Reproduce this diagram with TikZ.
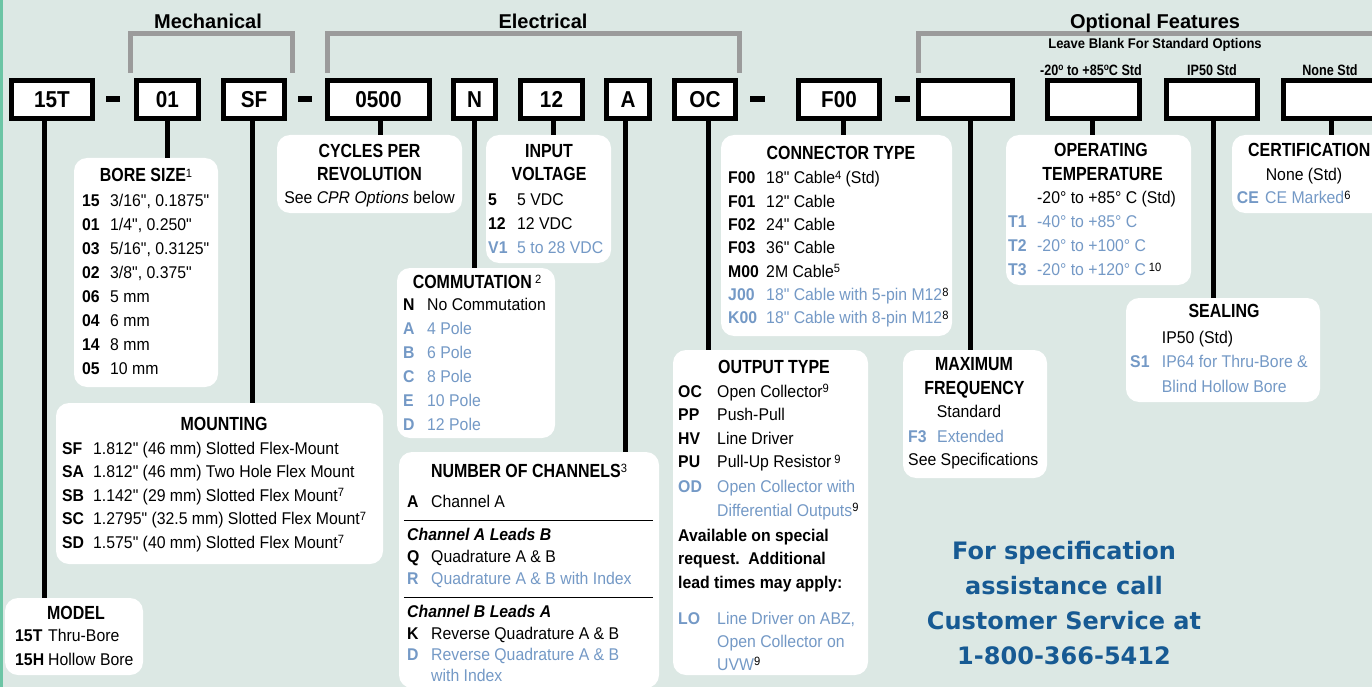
\documentclass[tikz,border=0pt]{standalone}
\usepackage{fontspec}
\newfontfamily\bodyf{Liberation Sans}[FakeStretch=0.93]
\newfontfamily\headf{Liberation Sans}[FakeStretch=0.84]
\newfontfamily\topf{Liberation Sans}
\newfontfamily\boxf{Liberation Sans}[FakeStretch=0.9]
\newfontfamily\csf{DejaVu Sans}
\definecolor{bgc}{HTML}{DCE8E4}
\definecolor{edgec}{HTML}{6CC5A5}
\definecolor{optblue}{HTML}{7499C6}
\definecolor{bracec}{HTML}{9B9B9B}
\definecolor{csblue}{HTML}{175A93}
\newcommand\fnx[1]{\raisebox{4.5pt}{\bodyf\mdseries\upshape\fontsize{12}{12}\selectfont #1}}
\newcommand\dego{\raisebox{5pt}{\fontsize{10}{10}\selectfont o}}
\tikzset{
  codebox/.style={draw=black, line width=5pt, fill=white, inner sep=0pt, minimum height=38pt, font=\boxf\bfseries\fontsize{23}{23}\selectfont},
  panel/.style={fill=white, rounded corners=13pt, inner sep=0pt, draw=none},
  wire/.style={line width=5pt, draw=black},
  brace/.style={line width=5pt, draw=bracec},
  bar/.style={fill=black},
  grp/.style={font=\topf\bfseries\fontsize{20}{20}\selectfont, inner sep=0pt, anchor=base},
  small/.style={font=\headf\bfseries\fontsize{15}{15}\selectfont, inner sep=0pt, anchor=base},
  head/.style={font=\headf\bfseries\fontsize{19}{19}\selectfont, inner sep=0pt, anchor=base},
  txt/.style={font=\bodyf\fontsize{17}{17}\selectfont, inner sep=0pt, anchor=base west},
  ctxt/.style={txt, anchor=base},
  btxt/.style={txt, font=\bodyf\bfseries\fontsize{17}{17}\selectfont},
  bitxt/.style={txt, font=\bodyf\bfseries\itshape\fontsize{17}{17}\selectfont},
  code/.style={font=\bodyf\bfseries\fontsize{17}{17}\selectfont, inner sep=0pt, anchor=base west},
  lb/.style={text=optblue},
  bk/.style={text=black},
  cs/.style={font=\csf\bfseries\fontsize{24}{24}\selectfont, text=csblue, inner sep=0pt, anchor=base},
  rule/.style={line width=1pt, draw=black},
}
\newcommand\opt[7][bk]{%
  \node[code,#1] (#2c) at (#4,#3) {#6};
  \node[txt,#1] (#2d) at (#5,#3) {#7};}
\begin{document}
\begin{tikzpicture}[x=1pt,y=-1pt]
\fill[bgc] (0,0) rectangle (1372,687);
\useasboundingbox (0,0) rectangle (1372,687);
\fill[edgec] (0,0) rectangle (3,687);

% group brackets
\draw[brace] (130,73) -- (130,34) -- (292,34) -- (292,73);
\draw[brace] (327,73) -- (327,34) -- (739,34) -- (739,73);
\draw[brace] (918,73) -- (918,34) -- (1380,34);
\node[grp] (gmech) at (208,29) {Mechanical};
\node[grp] (gelec) at (543,29) {Electrical};
\node[grp] (gopt) at (1155,29) {Optional Features};
\node[anchor=base, inner sep=0pt, font=\bodyf\bfseries\fontsize{14}{14}\selectfont] (gleave) at (1155,48.3) {Leave Blank For Standard Options};
\node[small] (lbt) at (1091,76) {-20\dego{} to +85\dego C Std};
\node[small] (lbs) at (1212,76) {IP50 Std};
\node[small] (lbc) at (1330,76) {None Std};

% white panels
\node[panel, minimum width=144pt, minimum height=229pt] (bore) at (146,272.5) {};
\node[panel, minimum width=327pt, minimum height=161pt] (mount) at (219.5,483.5) {};
\node[panel, minimum width=138pt, minimum height=77pt] (model) at (74,636.5) {};
\node[panel, minimum width=185pt, minimum height=78pt] (cpr) at (369.5,174) {};
\node[panel, minimum width=125pt, minimum height=128pt] (volt) at (548.5,199) {};
\node[panel, minimum width=158pt, minimum height=170pt] (comm) at (476,353) {};
\node[panel, minimum width=260pt, minimum height=236pt] (chan) at (529,570) {};
\node[panel, minimum width=231pt, minimum height=201pt] (conn) at (836.5,235.5) {};
\node[panel, minimum width=195pt, minimum height=325pt] (out) at (770.5,512.5) {};
\node[panel, minimum width=144pt, minimum height=128pt] (freq) at (975,414) {};
\node[panel, minimum width=185pt, minimum height=150pt] (temp) at (1098.5,210) {};
\node[panel, minimum width=194pt, minimum height=104pt] (seal) at (1223,350) {};
\node[panel, minimum width=158pt, minimum height=78pt] (cert) at (1311,174) {};

% code boxes
\node[codebox, minimum width=81pt] (b15T) at (52,99.5) {15T};
\node[codebox, minimum width=62pt] (b01) at (167.5,99.5) {01};
\node[codebox, minimum width=61pt] (bSF) at (254,99.5) {SF};
\node[codebox, minimum width=102pt] (b0500) at (378.5,99.5) {0500};
\node[codebox, minimum width=42pt] (bN) at (474.5,99.5) {N};
\node[codebox, minimum width=62pt] (b12) at (551.5,99.5) {12};
\node[codebox, minimum width=43pt] (bA) at (628,99.5) {A};
\node[codebox, minimum width=61pt] (bOC) at (705,99.5) {OC};
\node[codebox, minimum width=81pt] (bF00) at (839,99.5) {F00};
\node[codebox, minimum width=94pt] (bx1) at (965.5,99.5) {};
\node[codebox, minimum width=92pt] (bx2) at (1093.5,99.5) {};
\node[codebox, minimum width=91pt] (bx3) at (1212,99.5) {};
\node[codebox, minimum width=92pt] (bx4) at (1329.5,99.5) {};

% dashes
\fill[bar] (106,96.5) rectangle (120,102.5);
\fill[bar] (298,96.5) rectangle (312,102.5);
\fill[bar] (750,96.5) rectangle (765,102.5);
\fill[bar] (895,96.5) rectangle (910,102.5);

% connectors
\draw[wire] ([xshift=-8pt]b15T.south) -- ([xshift=-8pt]b15T.south |- model.north);
\draw[wire] (b01.south) -- (b01.south |- bore.north);
\draw[wire] ([xshift=-2pt]bSF.south) -- ([xshift=-2pt]bSF.south |- mount.north);
\draw[wire] ([xshift=1.5pt]b0500.south) -- ([xshift=1.5pt]b0500.south |- cpr.north);
\draw[wire] (bN.south) -- (bN.south |- comm.north);
\draw[wire] ([xshift=1.5pt]b12.south) -- ([xshift=1.5pt]b12.south |- volt.north);
\draw[wire] ([xshift=-3pt]bA.south) -- ([xshift=-3pt]bA.south |- chan.north);
\draw[wire] ([xshift=3pt]bOC.south) -- ([xshift=3pt]bOC.south |- out.north);
\draw[wire] ([xshift=4pt]bF00.south) -- ([xshift=4pt]bF00.south |- conn.north);
\draw[wire] ([xshift=4.5pt]bx1.south) -- ([xshift=4.5pt]bx1.south |- freq.north);
\draw[wire] ([xshift=-1.5pt]bx2.south) -- ([xshift=-1.5pt]bx2.south |- temp.north);
\draw[wire] ([xshift=1pt]bx3.south) -- ([xshift=1pt]bx3.south |- seal.north);
\draw[wire] ([xshift=2pt]bx4.south) -- ([xshift=2pt]bx4.south |- cert.north);

% bore size
\node[head] (boreh) at (146,182) {BORE SIZE\fnx{1}};
\opt{bo1}{206.5}{82}{110}{15}{3/16", 0.1875"}
\opt{bo2}{230.5}{82}{110}{01}{1/4", 0.250"}
\opt{bo3}{254.5}{82}{110}{03}{5/16", 0.3125"}
\opt{bo4}{278.5}{82}{110}{02}{3/8", 0.375"}
\opt{bo5}{302.5}{82}{110}{06}{5 mm}
\opt{bo6}{326.5}{82}{110}{04}{6 mm}
\opt{bo7}{350.5}{82}{110}{14}{8 mm}
\opt{bo8}{374.5}{82}{110}{05}{10 mm}

% mounting
\node[head] (mounth) at (224,430) {MOUNTING};
\opt{mt1}{454}{62}{93}{SF}{1.812" (46 mm) Slotted Flex-Mount}
\opt{mt2}{477.6}{62}{93}{SA}{1.812" (46 mm) Two Hole Flex Mount}
\opt{mt3}{501.2}{62}{93}{SB}{1.142" (29 mm) Slotted Flex Mount\fnx{7}}
\opt{mt4}{524.8}{62}{93}{SC}{1.2795" (32.5 mm) Slotted Flex Mount\fnx{7}}
\opt{mt5}{548.4}{62}{93}{SD}{1.575" (40 mm) Slotted Flex Mount\fnx{7}}

% model
\node[head] (modelh) at (76,619) {MODEL};
\opt{mo1}{641}{15}{48}{15T}{Thru-Bore}
\opt{mo2}{665}{15}{48}{15H}{Hollow Bore}

% cpr
\node[head] (cprh1) at (369.5,158) {CYCLES PER};
\node[head] (cprh2) at (369.5,180.5) {REVOLUTION};
\node[ctxt] (cprt) at (369.5,204) {See \textit{CPR Options} below};

% input voltage
\node[head] (volth1) at (549,158) {INPUT};
\node[head] (volth2) at (549,180.5) {VOLTAGE};
\opt{vo1}{205}{488}{517}{5}{5 VDC}
\opt{vo2}{229}{488}{517}{12}{12 VDC}
\opt[lb]{vo3}{253}{488}{517}{V1}{5 to 28 VDC}

% commutation
\node[head] (commh) at (477,288) {COMMUTATION\,\fnx{2}};
\opt{co1}{310.5}{403}{427}{N}{No Commutation}
\opt[lb]{co2}{334.4}{403}{427}{A}{4 Pole}
\opt[lb]{co3}{358.3}{403}{427}{B}{6 Pole}
\opt[lb]{co4}{382.2}{403}{427}{C}{8 Pole}
\opt[lb]{co5}{406.1}{403}{427}{E}{10 Pole}
\opt[lb]{co6}{430}{403}{427}{D}{12 Pole}

% channels
\node[head] (chanh) at (529,477) {NUMBER OF CHANNELS\fnx{3}};
\opt{ch1}{507}{407}{431}{A}{Channel A}
\draw[rule] ([xshift=5pt]chan.west |- 0,520) -- ([xshift=-6pt]chan.east |- 0,520);
\node[bitxt] (chs1) at (407,540.5) {Channel A Leads B};
\opt{ch2}{562}{407}{431}{Q}{Quadrature A \& B}
\opt[lb]{ch3}{584}{407}{431}{R}{Quadrature A \& B with Index}
\draw[rule] ([xshift=5pt]chan.west |- 0,597) -- ([xshift=-6pt]chan.east |- 0,597);
\node[bitxt] (chs2) at (407,617) {Channel B Leads A};
\opt{ch4}{639}{407}{431}{K}{Reverse Quadrature A \& B}
\opt[lb]{ch5}{660.5}{407}{431}{D}{Reverse Quadrature A \& B}
\node[txt,lb] (ch6) at (431,681) {with Index};

% connector type
\node[head] (connh) at (841,160) {CONNECTOR TYPE};
\opt{cn1}{184}{728}{766}{F00}{18" Cable\fnx{4} (Std)}
\opt{cn2}{207.3}{728}{766}{F01}{12" Cable}
\opt{cn3}{230.6}{728}{766}{F02}{24" Cable}
\opt{cn4}{253.9}{728}{766}{F03}{36" Cable}
\opt{cn5}{277.2}{728}{766}{M00}{2M Cable\fnx{5}}
\opt[lb]{cn6}{300.5}{728}{766}{J00}{18" Cable with 5-pin M12\textcolor{black}{\fnx{8}}}
\opt[lb]{cn7}{323.8}{728}{766}{K00}{18" Cable with 8-pin M12\textcolor{black}{\fnx{8}}}

% output type
\node[head] (outh) at (774,373.5) {OUTPUT TYPE};
\opt{ou1}{397}{678}{717}{OC}{Open Collector\fnx{9}}
\opt{ou2}{420.5}{678}{717}{PP}{Push-Pull}
\opt{ou3}{444.5}{678}{717}{HV}{Line Driver}
\opt{ou4}{467.7}{678}{717}{PU}{Pull-Up Resistor\,\fnx{9}}
\opt[lb]{ou5}{492}{678}{717}{OD}{Open Collector with}
\node[txt,lb] (ou6) at (717,516) {Differential Outputs\textcolor{black}{\fnx{9}}};
\node[btxt] (ou7) at (678,541) {Available on special};
\node[btxt] (ou8) at (678,564) {request.\ \ Additional};
\node[btxt] (ou9) at (678,588) {lead times may apply:};
\opt[lb]{ou10}{624}{678}{717}{LO}{Line Driver on ABZ,}
\node[txt,lb] (ou11) at (717,647.7) {Open Collector on};
\node[txt,lb] (ou12) at (717,670) {UVW\textcolor{black}{\fnx{9}}};

% maximum frequency
\node[head] (freqh1) at (974,370) {MAXIMUM};
\node[head] (freqh2) at (974.5,394.5) {FREQUENCY};
\node[ctxt] (fr1) at (969,417.7) {Standard};
\opt[lb]{fr2}{442}{908}{937}{F3}{Extended}
\node[txt] (fr3) at (908,465.7) {See Specifications};

% operating temperature
\node[head] (temph1) at (1101,157) {OPERATING};
\node[head] (temph2) at (1102.5,180.7) {TEMPERATURE};
\node[txt] (te1) at (1037,204) {-20° to +85° C (Std)};
\opt[lb]{te2}{227.7}{1008}{1037}{T1}{-40° to +85° C}
\opt[lb]{te3}{251.5}{1008}{1037}{T2}{-20° to +100° C}
\opt[lb]{te4}{275.7}{1008}{1037}{T3}{-20° to +120° C\,\textcolor{black}{\fnx{10}}}

% sealing
\node[head] (sealh) at (1224,317.8) {SEALING};
\node[txt] (se1) at (1161.7,343.5) {IP50 (Std)};
\opt[lb]{se2}{367.7}{1130}{1161.7}{S1}{IP64 for Thru-Bore \&}
\node[txt,lb] (se3) at (1161.7,392.7) {Blind Hollow Bore};

% certification
\node[head, anchor=base west] (certh) at (1248,157) {CERTIFICATION};
\node[ctxt] (ce1) at (1304,181) {None (Std)};
\opt[lb]{ce2}{204}{1236.7}{1265}{CE}{CE Marked\textcolor{black}{\fnx{6}}}

% customer service
\node[cs] (cs1) at (1064,559) {For specification};
\node[cs] (cs2) at (1064,594) {assistance call};
\node[cs] (cs3) at (1064,629) {Customer Service at};
\node[cs] (cs4) at (1064,664) {1-800-366-5412};
\end{tikzpicture}
\end{document}
